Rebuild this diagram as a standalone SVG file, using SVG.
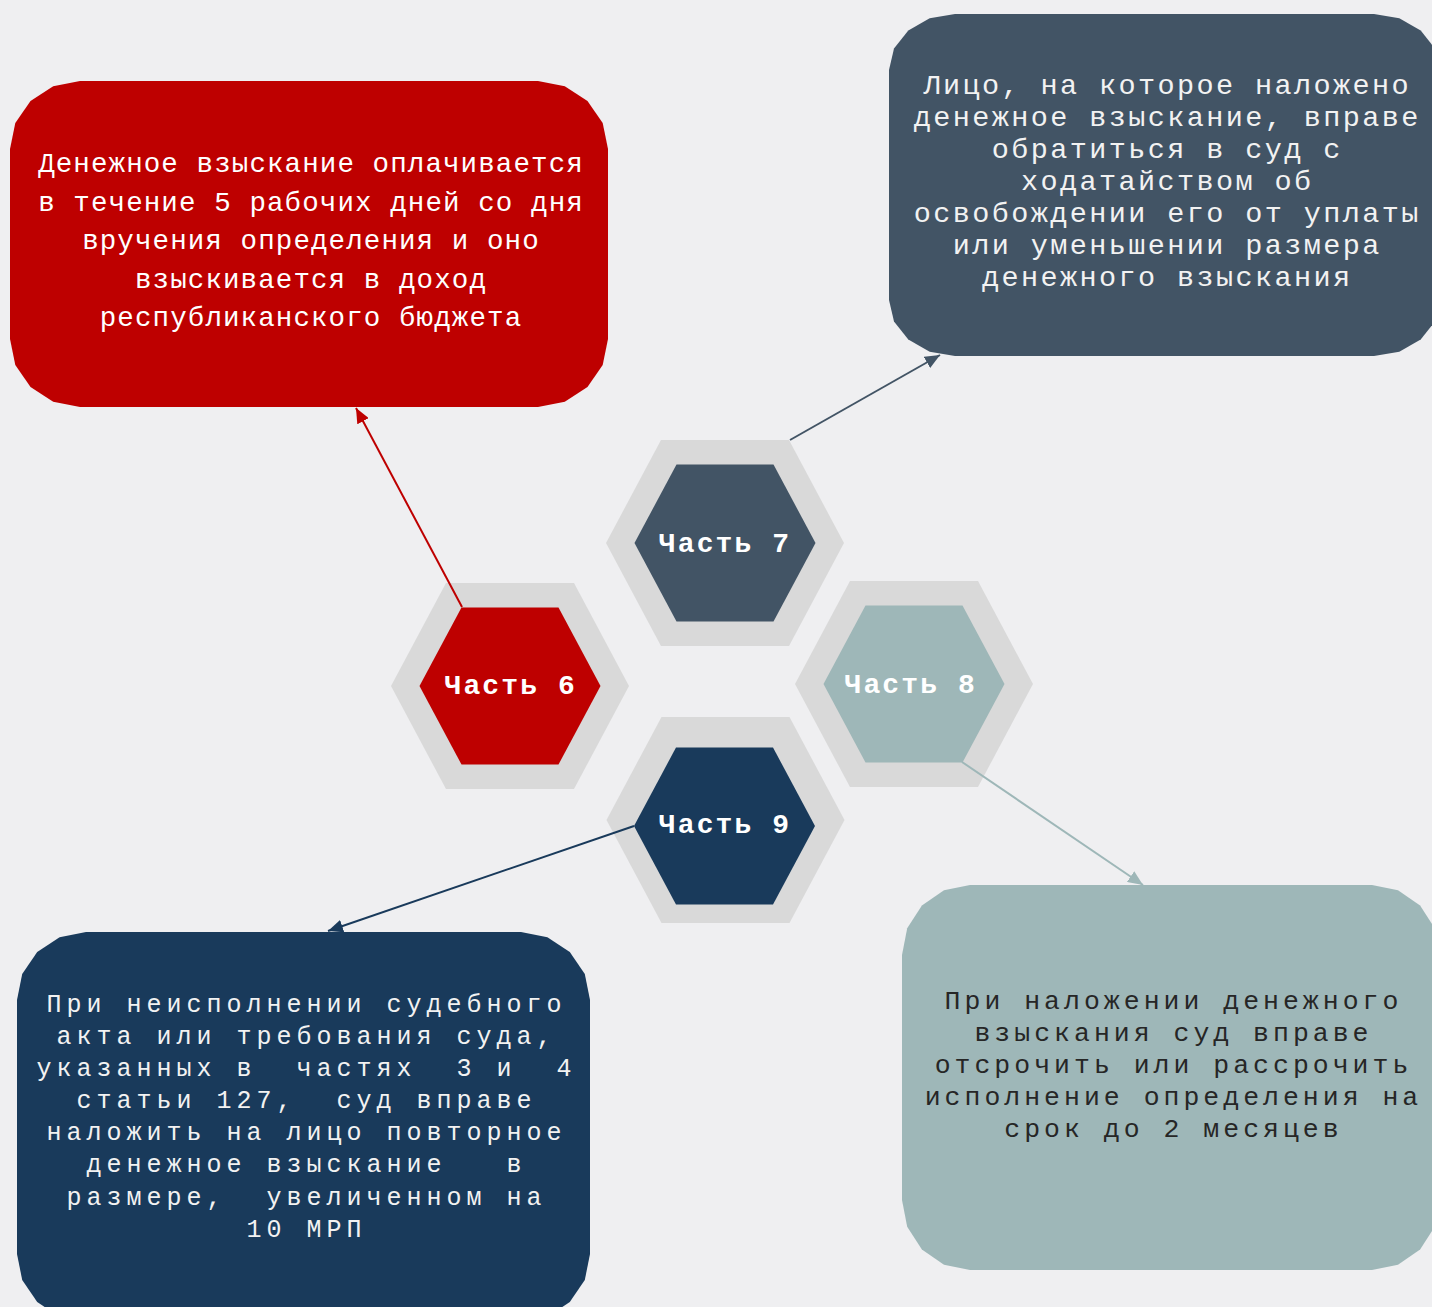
<svg xmlns="http://www.w3.org/2000/svg" width="1432" height="1307" viewBox="0 0 1432 1307">
<style>
.txt{font-family:"Liberation Mono","Courier New",monospace;text-anchor:middle}
.red-t{font-size:27.5px;letter-spacing:1.1px;fill:#ffffff}
.slate-t{font-size:28.5px;letter-spacing:2.4px;fill:#f2f2f2}
.navy-t{font-size:25px;letter-spacing:5px;fill:#f2f2f2}
.teal-t{font-size:26.5px;letter-spacing:4px;fill:#262626}
.hexlbl{font-family:"Liberation Mono","Courier New",monospace;font-weight:bold;font-size:28px;letter-spacing:2.1px;fill:#ffffff;text-anchor:middle}
.outer{fill:#d9d9d9}
.conn{fill:none;stroke-width:2}
</style>
<defs>
<marker id="arR" viewBox="0 0 15 13" refX="15" refY="6.5" markerUnits="userSpaceOnUse" markerWidth="15" markerHeight="13" orient="auto"><path d="M0,0 L15,6.5 L0,13 z" fill="#be0000"/></marker>
<marker id="arS" viewBox="0 0 15 13" refX="15" refY="6.5" markerUnits="userSpaceOnUse" markerWidth="15" markerHeight="13" orient="auto"><path d="M0,0 L15,6.5 L0,13 z" fill="#425465"/></marker>
<marker id="arT" viewBox="0 0 15 13" refX="15" refY="6.5" markerUnits="userSpaceOnUse" markerWidth="15" markerHeight="13" orient="auto"><path d="M0,0 L15,6.5 L0,13 z" fill="#9eb7b8"/></marker>
<marker id="arN" viewBox="0 0 15 13" refX="15" refY="6.5" markerUnits="userSpaceOnUse" markerWidth="15" markerHeight="13" orient="auto"><path d="M0,0 L15,6.5 L0,13 z" fill="#193a5b"/></marker>
</defs>
<rect x="0" y="0" width="1432" height="1307" fill="#efeff1"/>

<g id="box-red">
<polygon fill="#be0000" points="10,149 15.3,123 30.5,100.9 53.2,86.2 80,81 538,81 564.8,86.2 587.5,100.9 602.7,123 608,149 608,339 602.7,365 587.5,387.1 564.8,401.8 538,407 80,407 53.2,401.8 30.5,387.1 15.3,365 10,339"/>
<text class="txt red-t" x="311" y="172">Денежное взыскание оплачивается</text>
<text class="txt red-t" x="311" y="210.5">в течение 5 рабочих дней со дня</text>
<text class="txt red-t" x="311" y="249">вручения определения и оно</text>
<text class="txt red-t" x="311" y="287.5">взыскивается в доход</text>
<text class="txt red-t" x="311" y="326">республиканского бюджета</text>
</g>

<g id="box-slate">
<polygon fill="#425465" points="889,70 894,48.6 908.3,30.4 929.7,18.3 955,14 1374,14 1399.3,18.3 1420.7,30.4 1435,48.6 1440,70 1440,300 1435,321.4 1420.7,339.6 1399.3,351.7 1374,356 955,356 929.7,351.7 908.3,339.6 894,321.4 889,300"/>
<text class="txt slate-t" x="1167.2" y="94.3">Лицо, на которое наложено</text>
<text class="txt slate-t" x="1167.2" y="126.3">денежное взыскание, вправе</text>
<text class="txt slate-t" x="1167.2" y="158.3">обратиться в суд с</text>
<text class="txt slate-t" x="1167.2" y="190.3">ходатайством об</text>
<text class="txt slate-t" x="1167.2" y="222.3">освобождении его от уплаты</text>
<text class="txt slate-t" x="1167.2" y="254.3">или уменьшении размера</text>
<text class="txt slate-t" x="1167.2" y="286.3">денежного взыскания</text>
</g>

<g id="box-navy">
<polygon fill="#193a5b" points="17,1000 22.2,974 37.2,951.9 59.6,937.2 86,932 521,932 547.4,937.2 569.8,951.9 584.8,974 590,1000 590,1254 584.8,1280 569.8,1302.1 547.4,1316.8 521,1322 86,1322 59.6,1316.8 37.2,1302.1 22.2,1280 17,1254"/>
<text class="txt navy-t" xml:space="preserve" x="306.5" y="1011.7">При неисполнении судебного</text>
<text class="txt navy-t" xml:space="preserve" x="306.5" y="1043.8">акта или требования суда,</text>
<text class="txt navy-t" xml:space="preserve" x="306.5" y="1076">указанных в  частях  3 и  4</text>
<text class="txt navy-t" xml:space="preserve" x="306.5" y="1108.1">статьи 127,  суд вправе</text>
<text class="txt navy-t" xml:space="preserve" x="306.5" y="1140.3">наложить на лицо повторное</text>
<text class="txt navy-t" xml:space="preserve" x="306.5" y="1172.4">денежное взыскание   в</text>
<text class="txt navy-t" xml:space="preserve" x="306.5" y="1204.5">размере,  увеличенном на</text>
<text class="txt navy-t" xml:space="preserve" x="306.5" y="1236.7">10 МРП</text>
</g>

<g id="box-teal">
<polygon fill="#9eb7b8" points="902,955 907.2,928.2 921.9,905.5 944,890.3 970,885 1372,885 1398,890.3 1420.1,905.5 1434.8,928.2 1440,955 1440,1200 1434.8,1226.8 1420.1,1249.5 1398,1264.7 1372,1270 970,1270 944,1264.7 921.9,1249.5 907.2,1226.8 902,1200"/>
<text class="txt teal-t" x="1173.5" y="1009.3">При наложении денежного</text>
<text class="txt teal-t" x="1173.5" y="1041.2">взыскания суд вправе</text>
<text class="txt teal-t" x="1173.5" y="1073">отсрочить или рассрочить</text>
<text class="txt teal-t" x="1173.5" y="1104.9">исполнение определения на</text>
<text class="txt teal-t" x="1173.5" y="1136.7">срок  до 2 месяцев</text>
</g>

<g id="hex-7">
<polygon class="outer" points="606,543 661,440 789,440 844,543 789,646 661,646"/>
<polygon fill="#425465" points="634.5,543 676.5,464.5 773.5,464.5 815.5,543 773.5,621.5 676.5,621.5"/>
<text class="hexlbl" x="725" y="552">Часть 7</text>
</g>

<g id="hex-6">
<polygon class="outer" points="391,686 446,583 574,583 629,686 574,789 446,789"/>
<polygon fill="#be0000" points="419.5,686 461.5,607.5 558.5,607.5 600.5,686 558.5,764.5 461.5,764.5"/>
<text class="hexlbl" x="510.7" y="694">Часть 6</text>
</g>

<g id="hex-8">
<polygon class="outer" points="795,684 850,581 978,581 1033,684 978,787 850,787"/>
<polygon fill="#9eb7b8" points="823.5,684 865.5,605.5 962.5,605.5 1004.5,684 962.5,762.5 865.5,762.5"/>
<text class="hexlbl" x="910.7" y="693">Часть 8</text>
</g>

<g id="hex-9">
<polygon class="outer" points="606.5,820 661.5,717 789.5,717 844.5,820 789.5,923 661.5,923"/>
<polygon fill="#193a5b" points="634,826 676,747.5 773,747.5 815,826 773,904.5 676,904.5"/>
<text class="hexlbl" x="725" y="833">Часть 9</text>
</g>

<g id="connectors">
<path class="conn" stroke="#be0000" d="M462,607 L356,408" marker-end="url(#arR)"/>
<path class="conn" stroke="#425465" d="M790,440 L940,355" marker-end="url(#arS)"/>
<path class="conn" stroke="#9eb7b8" d="M962,762 L1143,885" marker-end="url(#arT)"/>
<path class="conn" stroke="#193a5b" d="M634,826 L328,931" marker-end="url(#arN)"/>
</g>
</svg>
